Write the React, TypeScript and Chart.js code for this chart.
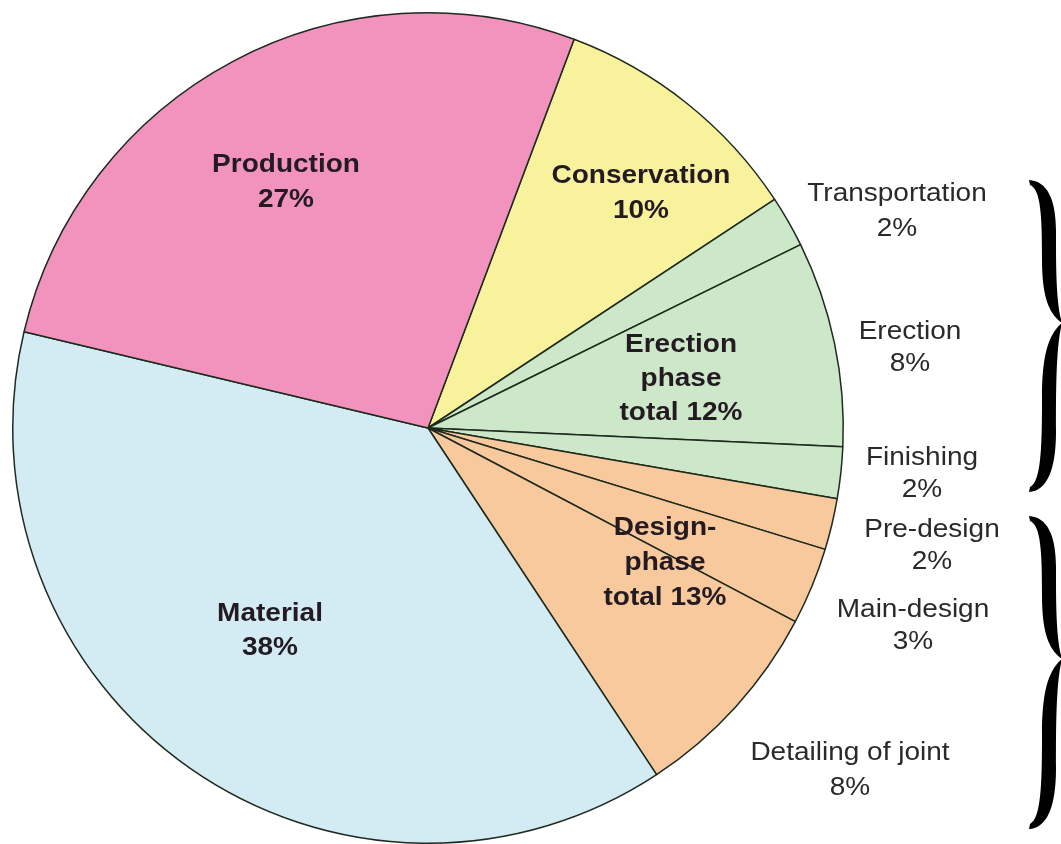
import React, { useEffect, useRef } from "react";
import { Chart, registerables } from "chart.js";

Chart.register(...registerables);

const categories = [
  "Conservation",
  "Transportation",
  "Erection",
  "Finishing",
  "Pre-design",
  "Main-design",
  "Detailing of joint",
  "Material",
  "Production",
];
const values = [10, 2, 8, 2, 2, 3, 8, 38, 27];
const sliceColors = [
  "#F8F29C",
  "#CDE8C9",
  "#CDE8C9",
  "#CDE8C9",
  "#F8C99C",
  "#F8C99C",
  "#F8C99C",
  "#D3ECF3",
  "#F193BD",
];

// inner (bold) labels
const boldLabels = [
  { lines: ["Production", "27%"], x: 286, y: 165, gap: 35 },
  { lines: ["Conservation", "10%"], x: 641, y: 176, gap: 35 },
  { lines: ["Erection", "phase", "total 12%"], x: 681, y: 345, gap: 34 },
  { lines: ["Design-", "phase", "total 13%"], x: 665, y: 528, gap: 35 },
  { lines: ["Material", "38%"], x: 270, y: 614, gap: 34 },
];
// outer (regular) labels
const outerLabels = [
  { lines: ["Transportation", "2%"], x: 897, y: 194, gap: 35 },
  { lines: ["Erection", "8%"], x: 910, y: 332, gap: 32 },
  { lines: ["Finishing", "2%"], x: 922, y: 458, gap: 32 },
  { lines: ["Pre-design", "2%"], x: 932, y: 530, gap: 32 },
  { lines: ["Main-design", "3%"], x: 913, y: 610, gap: 32 },
  { lines: ["Detailing of joint", "8%"], x: 850, y: 753, gap: 35 },
];
const braces = [
  { top: 182, mid: 323, bottom: 490 },
  { top: 518, mid: 659, bottom: 827 },
];

const overlayPlugin = {
  id: "overlay",
  afterDraw(chart: any) {
    const ctx = chart.ctx as CanvasRenderingContext2D;
    ctx.save();
    ctx.textAlign = "center";
    ctx.textBaseline = "middle";
    const drawStretched = (t: string, x: number, y: number) => {
      ctx.save();
      ctx.translate(x, y);
      ctx.scale(1.12, 1);
      ctx.fillText(t, 0, 0);
      ctx.restore();
    };
    ctx.fillStyle = "#231a22";
    ctx.font = "bold 25px 'Liberation Sans', Arial, sans-serif";
    for (const l of boldLabels) {
      l.lines.forEach((t, i) => drawStretched(t, l.x, l.y + i * l.gap));
    }
    ctx.fillStyle = "#2a2a2a";
    ctx.font = "25px 'Liberation Sans', Arial, sans-serif";
    for (const l of outerLabels) {
      l.lines.forEach((t, i) => drawStretched(t, l.x, l.y + i * l.gap));
    }
    // curly braces
    ctx.fillStyle = "#000";
    for (const b of braces) {
      const drawHalf = (yA: number, yB: number) => {
        const dir = yB > yA ? 1 : -1;
        const Y = (f: number) => yA + f * (yB - yA);
        ctx.beginPath();
        ctx.moveTo(1029, yA - dir * 2);
        ctx.bezierCurveTo(1047, yA - dir * 1, 1056, Y(0.12), 1056, Y(0.35));
        ctx.bezierCurveTo(1056, Y(0.6), 1056, Y(0.86), 1062, yB);
        ctx.bezierCurveTo(1048, Y(0.93), 1042, Y(0.8), 1042, Y(0.55));
        ctx.bezierCurveTo(1042, Y(0.25), 1041, Y(0.05), 1030, yA + dir * 3);
        ctx.closePath();
        ctx.fill();
      };
      drawHalf(b.top, b.mid);
      drawHalf(b.bottom, b.mid);
    }
    ctx.restore();
  },
};

export default function App() {
  const ref = useRef<HTMLCanvasElement | null>(null);
  useEffect(() => {
    if (!ref.current) return;
    const chart = new Chart(ref.current, {
      type: "pie",
      data: {
        labels: categories,
        datasets: [
          {
            data: values,
            backgroundColor: sliceColors,
            borderColor: "#1e2a1e",
            borderWidth: 1.5,
          },
        ],
      },
      options: {
        responsive: false,
        animation: false,
        rotation: 20.6,
        layout: { padding: { left: 12, top: 12, right: 217, bottom: 0 } },
        plugins: {
          legend: { display: false },
          tooltip: { enabled: false },
        },
      },
      plugins: [overlayPlugin],
    });
    return () => chart.destroy();
  }, []);
  return (
    <div style={{ position: "absolute", left: 0, top: 0, width: 1061, height: 844, background: "#fff" }}>
      <canvas ref={ref} width={1061} height={844} />
    </div>
  );
}
